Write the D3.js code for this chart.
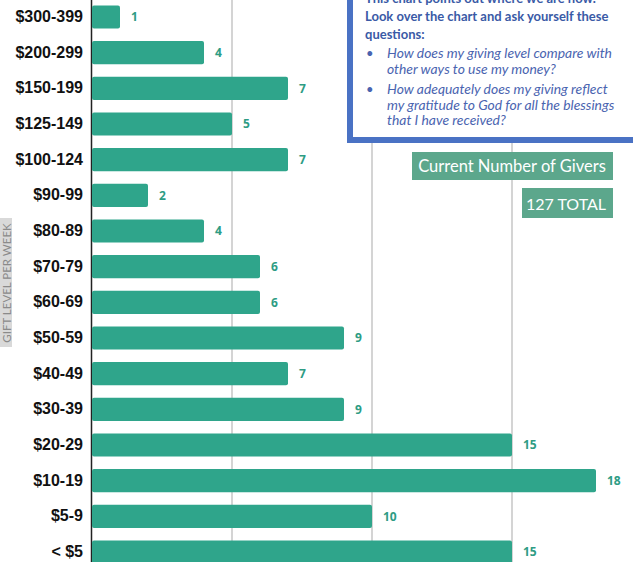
<!DOCTYPE html>
<html>
<head>
<meta charset="utf-8">
<script src="https://cdn.jsdelivr.net/npm/d3@7"></script>
<style>
  body { margin: 0; background: #fff; }
  svg { display: block; }
</style>
</head>
<body>
<div id="container"></div>
<script>
const categories = ['$300-399', '$200-299', '$150-199', '$125-149', '$100-124', '$90-99', '$80-89', '$70-79',
    '$60-69', '$50-59', '$40-49', '$30-39', '$20-29', '$10-19', '$5-9', '< $5']
const givers = [1, 4, 7, 5, 7, 2, 4, 6, 6, 9, 7, 9, 15, 18, 10, 15]
const gridTicks = [5, 10, 15, 20]
const boxTitle = ['This chart points out where we are now.', 'Look over the chart and ask yourself these', 'questions:']
const questions = [
    ['How does my giving level compare with', 'other ways to use my money?'],
    ['How adequately does my giving reflect', 'my gratitude to God for all the blessings', 'that I have received?']
]
const axisTitle = 'GIFT LEVEL PER WEEK'
const badgeTitle = 'Current Number of Givers'
const badgeTotal = '127 TOTAL'

const w = 633
const h = 562
const teal = '#2fa58b'

const data = categories.map((c, i) => ({ cat: c, v: givers[i] }))

const scaleX = d3.scaleLinear([0, 20], [92, 652])
const scaleY = d3.scaleBand(categories, [-0.8, 569.8])
    .paddingInner(0.35)
    .paddingOuter(0.175)

const svg = d3.select('#container')
    .append('svg')
    .attr('width', w)
    .attr('height', h)

// grid
svg.append('g')
    .selectAll('line')
    .data(gridTicks)
    .enter()
    .append('line')
    .attr('x1', d => scaleX(d))
    .attr('x2', d => scaleX(d))
    .attr('y1', 0)
    .attr('y2', h)
    .attr('stroke', '#d4d4d4')
    .attr('stroke-width', 2)

// y axis
const axisY = d3.axisLeft(scaleY).tickSize(0).tickPadding(8)
const gy = svg.append('g')
    .attr('transform', `translate(${scaleX(0) - 1},0)`)
    .call(axisY)
gy.select('.domain').attr('stroke', '#222').attr('stroke-width', 1.5)
gy.selectAll('text')
    .attr('font-family', '"Liberation Sans", Arial, sans-serif')
    .attr('font-weight', 'bold')
    .attr('font-size', 16)
    .attr('fill', '#111')

// bars
svg.selectAll('rect.bar')
    .data(data)
    .enter()
    .append('rect')
    .attr('class', 'bar')
    .attr('x', scaleX(0))
    .attr('y', d => scaleY(d.cat))
    .attr('width', d => scaleX(d.v) - scaleX(0))
    .attr('height', scaleY.bandwidth())
    .attr('rx', 2)
    .attr('fill', teal)

svg.selectAll('text.val')
    .data(data)
    .enter()
    .append('text')
    .attr('class', 'val')
    .attr('x', d => scaleX(d.v) + 11)
    .attr('y', d => scaleY(d.cat) + scaleY.bandwidth() / 2)
    .attr('dy', '0.36em')
    .attr('font-family', '"Open Sans", sans-serif')
    .attr('font-weight', 'bold')
    .attr('font-size', 12)
    .attr('fill', '#2e9c84')
    .text(d => d.v)

// axis title
svg.append('rect')
    .attr('x', -4)
    .attr('y', 218)
    .attr('width', 16)
    .attr('height', 129)
    .attr('fill', '#d9d9d9')
svg.append('text')
    .attr('transform', 'translate(7,283) rotate(-90)')
    .attr('text-anchor', 'middle')
    .attr('dy', '0.36em')
    .attr('font-family', 'Lato, sans-serif')
    .attr('font-size', 11.5)
    .attr('fill', '#8a8a8a')
    .text(axisTitle)

// question box
svg.append('rect')
    .attr('x', 350)
    .attr('y', -20)
    .attr('width', 400)
    .attr('height', 160)
    .attr('fill', '#fff')
    .attr('stroke', '#4a72c4')
    .attr('stroke-width', 6)

const note = svg.append('g').attr('font-family', 'Lato, sans-serif')
boxTitle.forEach((t, i) => {
    note.append('text')
        .attr('x', 365)
        .attr('y', 3 + i * 18)
        .attr('font-weight', 'bold')
        .attr('font-size', 13)
        .attr('fill', '#3a5aa6')
        .text(t)
})
let yy = 58
questions.forEach(q => {
    note.append('text')
        .attr('x', 366)
        .attr('y', yy)
        .attr('font-size', 13)
        .attr('fill', '#4a64b0')
        .text('•')
    q.forEach(line => {
        note.append('text')
            .attr('x', 387)
            .attr('y', yy)
            .attr('font-style', 'italic')
            .attr('font-size', 13.9)
            .attr('fill', '#4a64b0')
            .text(line)
        yy += 15.5
    })
    yy += 5
})

// badges
const badges = svg.append('g').attr('font-family', 'Lato, sans-serif').attr('fill', '#fff')
badges.append('rect')
    .attr('x', 412).attr('y', 152).attr('width', 201).attr('height', 28)
    .attr('fill', '#5ca78c')
badges.append('text')
    .attr('x', 512).attr('y', 166).attr('dy', '0.36em')
    .attr('text-anchor', 'middle')
    .attr('font-size', 16.5)
    .text(badgeTitle)
badges.append('rect')
    .attr('x', 522).attr('y', 188).attr('width', 91).attr('height', 30)
    .attr('fill', '#5ca78c')
badges.append('text')
    .attr('x', 566).attr('y', 204).attr('dy', '0.36em')
    .attr('text-anchor', 'middle')
    .attr('font-size', 16)
    .text(badgeTotal)
</script>
</body>
</html>
